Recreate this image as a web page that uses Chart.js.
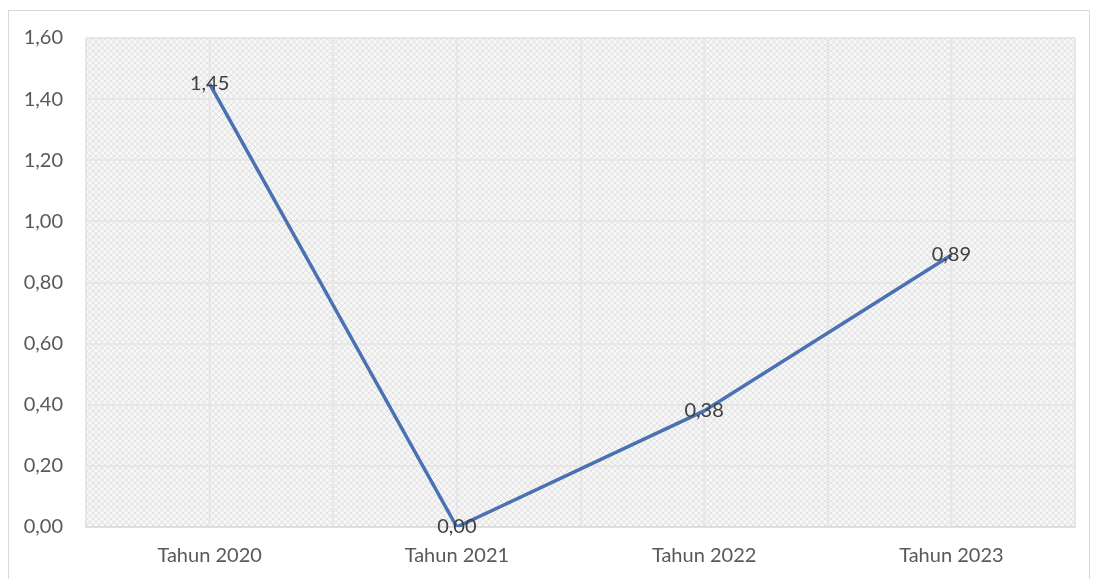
<!DOCTYPE html>
<html><head><meta charset="utf-8">
<script src="https://cdn.jsdelivr.net/npm/chart.js@4"></script>
<style>
html,body{margin:0;padding:0;background:#fff;}
#frame{position:absolute;left:8px;top:10px;width:1082px;height:575px;border:1px solid #d9d9d9;box-sizing:border-box;}
#wrap{position:absolute;left:0;top:0;width:1099px;height:579px;}
</style></head>
<body>
<div id="frame"></div>
<div id="wrap"><canvas id="c" width="1099" height="579"></canvas></div>
<script>
const categories = ["Tahun 2020","Tahun 2021","Tahun 2022","Tahun 2023"];
const values = [1.45, 0.00, 0.38, 0.89];
const yTicks = [0,0.2,0.4,0.6,0.8,1.0,1.2,1.4,1.6];

const fmt = v => v.toFixed(2).replace('.', ',');
const FONT = "Lato";

function makePattern(ctx){
  const p = document.createElement('canvas');
  p.width = 6; p.height = 6;
  const g = p.getContext('2d');
  g.fillStyle = '#f6f6f6'; g.fillRect(0,0,6,6);
  g.strokeStyle = '#e2e2e2'; g.lineWidth = 1;
  g.beginPath(); g.moveTo(0,0); g.lineTo(6,6); g.stroke();
  g.beginPath(); g.moveTo(6,0); g.lineTo(0,6); g.stroke();
  return ctx.createPattern(p,'repeat');
}

const bgPlugin = {
  id:'bg',
  beforeDraw(chart){
    const {ctx, chartArea:a, scales} = chart;
    ctx.save();
    ctx.fillStyle = makePattern(ctx);
    ctx.fillRect(a.left,a.top,a.right-a.left,a.bottom-a.top);
    ctx.strokeStyle = '#e6e6e6'; ctx.lineWidth = 2;
    categories.forEach((c,i)=>{
      const x = scales.x.getPixelForValue(i);
      ctx.beginPath(); ctx.moveTo(x,a.top); ctx.lineTo(x,a.bottom); ctx.stroke();
    });
    ctx.restore();
  }
};

const labelPlugin = {
  id:'dl',
  afterDatasetsDraw(chart){
    const {ctx} = chart;
    const meta = chart.getDatasetMeta(0);
    ctx.save();
    ctx.font = '20px ' + FONT;
    ctx.fillStyle = '#404040';
    ctx.textAlign = 'center';
    ctx.textBaseline = 'middle';
    meta.data.forEach((pt,i)=>{
      ctx.fillText(fmt(values[i]), pt.x, pt.y);
    });
    ctx.restore();
  }
};

new Chart(document.getElementById('c'),{
  type:'line',
  data:{labels:categories,datasets:[{data:values,borderColor:'#4a72b2',borderWidth:3.5,pointRadius:0,tension:0,fill:false}]},
  options:{
    responsive:false,animation:false,
    layout:{padding:{left:0,right:24,top:38,bottom:0}},
    plugins:{legend:{display:false},tooltip:{enabled:false}},
    scales:{
      x:{
        offset:true,
        grid:{offset:true,color:'#e6e6e6',lineWidth:2,drawTicks:false},
        border:{color:'#d9d9d9',width:1.5},
        ticks:{padding:17,color:'#595959',font:{family:FONT,size:20}},
        afterFit(s){s.height=52;}
      },
      y:{
        min:0,max:1.6,
        afterBuildTicks(s){s.ticks = yTicks.map(v=>({value:v}));},
        grid:{color:'#e6e6e6',lineWidth:2,drawTicks:false},
        border:{display:false},
        ticks:{padding:23,color:'#595959',font:{family:FONT,size:20},callback:v=>fmt(v)},
        afterFit(s){s.width=86;}
      }
    }
  },
  plugins:[bgPlugin,labelPlugin]
});
</script>
</body></html>
